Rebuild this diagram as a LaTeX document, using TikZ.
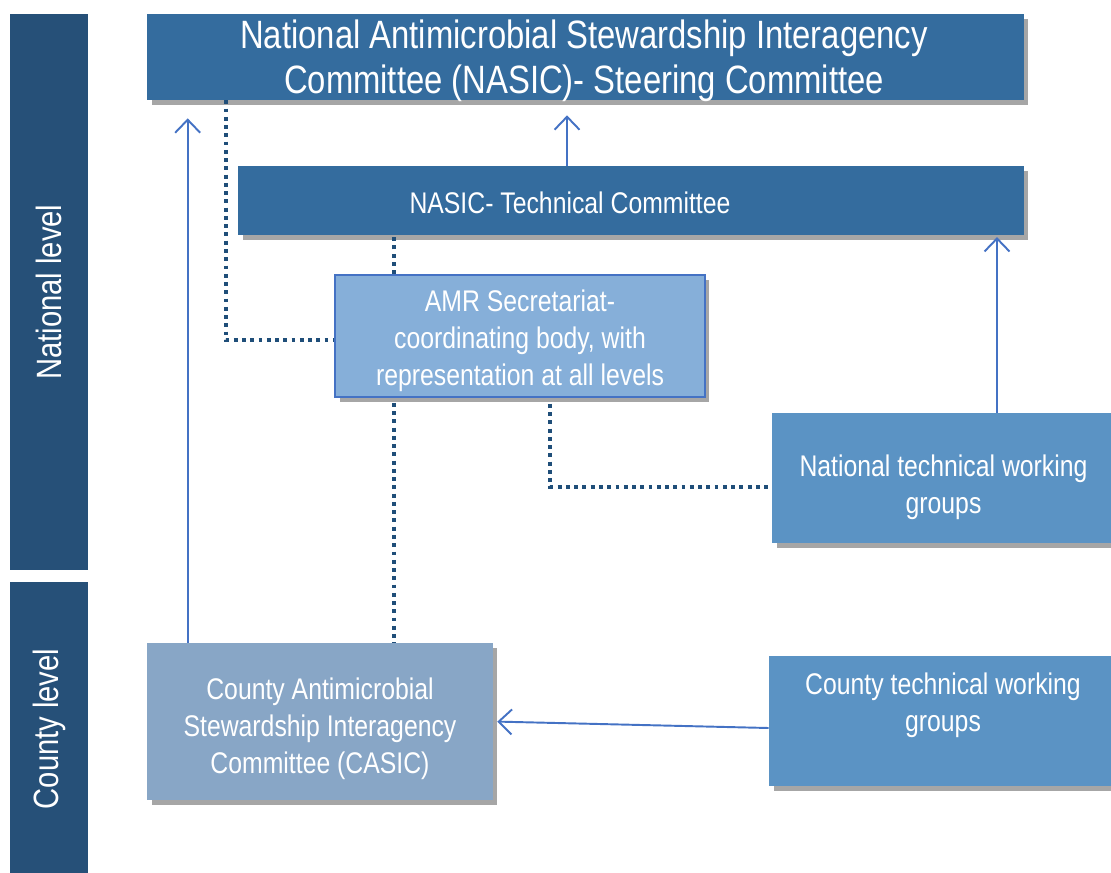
\documentclass[tikz,border=0pt]{standalone}
\usepackage{fontspec}
\setmainfont{Liberation Sans}[FakeStretch=0.83]
\usepackage{tikz}
\usetikzlibrary{arrows.meta,shadows}

\definecolor{barblue}{RGB}{38,80,120}
\definecolor{topblue}{RGB}{52,108,158}
\definecolor{secblue}{RGB}{134,175,217}
\definecolor{secedge}{RGB}{68,114,196}
\definecolor{twgblue}{RGB}{91,147,196}
\definecolor{caseblue}{RGB}{136,166,198}
\definecolor{arrblue}{RGB}{68,114,196}
\definecolor{dotblue}{RGB}{31,78,121}

\begin{document}
\begin{tikzpicture}[x=0.02cm, y=-0.02cm, text=white,
		level bar/.style={rectangle,fill=barblue,minimum width=1.56cm,font=\fontsize{20}{24}\selectfont},
		main box/.style={rectangle,align=center,inner sep=0pt,
			drop shadow={shadow xshift=0.09cm,shadow yshift=-0.1cm,opacity=0.35,fill=black},
			font=\fontsize{17}{21}\selectfont},
		up arrow/.style={draw=arrblue,line width=1.1pt,-{Straight Barb[length=2.6mm,width=5mm]}},
		dot line/.style={draw=dotblue,line width=2.2pt,dash pattern=on 2.2pt off 2.5pt}]
		\useasboundingbox (0,0) rectangle (1111,872);
		
		% level bars on the left
		\node[level bar,minimum height=11.12cm] (natbar) at (49,292) {\rotatebox{90}{National level}};
		\node[level bar,minimum height=5.9cm] (cntbar) at (49,729) {\rotatebox{90}{County level}};
		
		% boxes
		\node[main box,fill=topblue,minimum width=17.54cm,minimum height=1.72cm] (nasic) at (585.5,57) {};
		\node[align=center,font=\fontsize{22.5}{25.5}\selectfont] (nasictext) at (584,61)
			{National Antimicrobial Stewardship Interagency\\Committee (NASIC)- Steering Committee};
		\node[main box,fill=topblue,minimum width=15.72cm,minimum height=1.38cm] (tech) at (631,200.5) {};
		\node[font=\fontsize{17}{21}\selectfont] (techtext) at (570,203) {NASIC- Technical Committee};
		\node[main box,fill=secblue,draw=secedge,line width=1pt,minimum width=7.4cm,minimum height=2.44cm] (amr) at (520,336)
			{\rule{0pt}{17.5pt}AMR Secretariat-\\coordinating body, with\\representation at all levels};
		\node[main box,fill=twgblue,minimum width=6.86cm,minimum height=2.6cm] (ntwg) at (943.5,478)
			{\rule{0pt}{22.6pt}National technical working\\groups};
		\node[main box,fill=twgblue,minimum width=6.96cm,minimum height=2.6cm] (ctwg) at (943,721)
			{County technical working\\groups\rule[-21pt]{0pt}{21pt}};
		\node[main box,fill=caseblue,minimum width=6.92cm,minimum height=3.14cm] (casic) at (320,721.5)
			{\rule{0pt}{21pt}County Antimicrobial\\Stewardship Interagency\\Committee (CASIC)};
		
		% reporting lines
		\draw[up arrow,shorten >=0.36cm] ([xshift=0.82cm]casic.north west) -- ([xshift=0.82cm]casic.north west |- nasic.south);
		\draw[up arrow,shorten >=0.3cm] ([xshift=-1.28cm]tech.north) -- ([xshift=-1.28cm]tech.north |- nasic.south);
		\draw[up arrow,shorten >=1pt] ([xshift=1.07cm]ntwg.north) -- ([xshift=1.07cm]ntwg.north |- tech.south);
		\draw[up arrow,shorten >=0.08cm] ([yshift=-0.14cm]ctwg.west) -- (casic.east);
		
		% coordination lines
		\draw[dot line] ([xshift=1.58cm]nasic.south west) |- ([yshift=-0.08cm]amr.west);
		\draw[dot line] ([xshift=1.2cm]amr.north west) -- ([xshift=1.2cm]amr.north west |- tech.south);
		\draw[dot line] ([xshift=1.2cm,yshift=-0.1cm]amr.south west) -- ([xshift=1.2cm]amr.south west |- casic.north);
		\draw[dot line] ([xshift=0.6cm,yshift=-0.12cm]amr.south) |- ([yshift=-0.18cm]ntwg.west);
		\end{tikzpicture}
\end{document}
